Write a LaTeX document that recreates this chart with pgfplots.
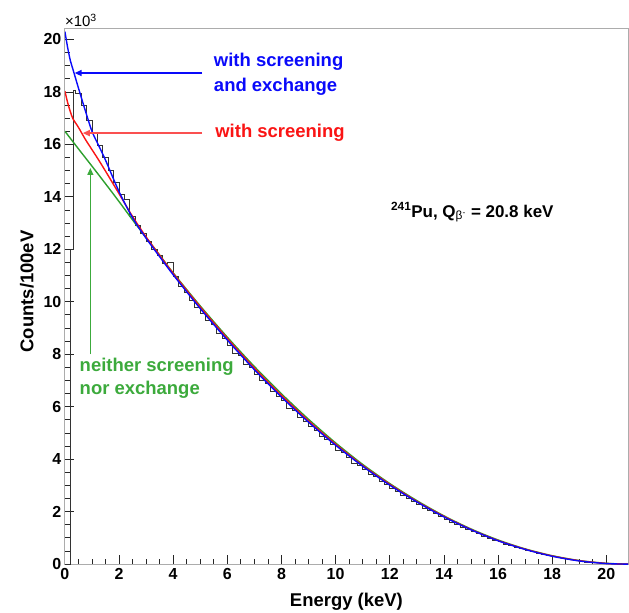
\documentclass[border=0pt]{standalone}
\usepackage{fontspec}
\setmainfont{Liberation Sans}
\usepackage{pgfplots}
\pgfplotsset{compat=1.18}
\usetikzlibrary{arrows.meta}
\definecolor{cblue}{RGB}{10,10,250}
\definecolor{cred}{RGB}{250,20,20}
\definecolor{cgreen}{RGB}{45,160,45}
\definecolor{ared}{RGB}{250,80,80}
\definecolor{tgreen}{RGB}{60,170,60}
\begin{document}
\begin{tikzpicture}
\path[use as bounding box] (-65pt,-48pt) rectangle (565pt,565pt);
\begin{axis}[
  scale only axis, width=564pt, height=536pt,
  xmin=0, xmax=20.8, ymin=0, ymax=20.4,
  xtick distance=2, ytick distance=2, minor tick num=3,
  tick pos=left, tick align=inside,
  major tick length=9pt, minor tick length=5pt,
  every tick/.style={black!85, line width=0.8pt},
  axis line style={gray!65, line width=1pt},
  ticklabel style={font=\bfseries\fontsize{16}{16}\selectfont},
  /pgf/number format/assume math mode=true,
  xticklabel style={yshift=-1pt},
]
% histogram (Counts/100eV, in units of 10^3), left bin edges
\addplot[const plot, black!80, line width=0.8pt] coordinates {
(0,0) (0.2,12.0) (0.3,18.05) (0.4,17.95) (0.6,17.5) (0.8,16.9) (1.0,16.4) (1.2,15.95)
(1.4,15.5) (1.6,15.0) (1.8,14.55) (2.0,14.1) (2.2,13.9) (2.4,13.25) (2.6,12.9) (2.8,12.6)
(3.0,12.3) (3.2,12.0) (3.4,11.75) (3.6,11.45) (3.8,11.5) (4.0,10.95) (4.2,10.6) (4.4,10.35)
(4.6,10.05) (4.8,9.8) (5.0,9.55) (5.2,9.3) (5.4,9.15) (5.6,8.8) (5.8,8.6) (6.0,8.35)
(6.2,8.05) (6.4,7.95) (6.6,7.6) (6.8,7.5) (7.0,7.25) (7.2,7.0) (7.4,6.9) (7.6,6.6)
(7.8,6.4) (8.0,6.25) (8.2,5.95) (8.4,5.85) (8.6,5.6) (8.8,5.45) (9.0,5.25) (9.2,5.1)
(9.4,4.85) (9.6,4.75) (9.8,4.55) (10.0,4.35) (10.2,4.25) (10.4,4.05) (10.6,3.85) (10.8,3.78)
(11.0,3.6) (11.2,3.42) (11.4,3.33) (11.6,3.15) (11.8,3.05) (12.0,2.88) (12.2,2.78) (12.4,2.62)
(12.6,2.52) (12.8,2.38) (13.0,2.28) (13.2,2.13) (13.4,2.04) (13.6,1.92) (13.8,1.80) (14.0,1.72)
(14.2,1.60) (14.4,1.52) (14.6,1.41) (14.8,1.33) (15.0,1.24) (15.2,1.16) (15.4,1.07) (15.6,0.99)
(15.8,0.91) (16.0,0.85) (16.2,0.77) (16.4,0.71) (16.6,0.64) (16.8,0.58) (17.0,0.53) (17.2,0.47)
(17.4,0.42) (17.6,0.37) (17.8,0.33) (18.0,0.28) (18.2,0.24) (18.4,0.20) (18.6,0.17) (18.8,0.13)
(19.0,0.11) (19.2,0.08) (19.4,0.06) (19.6,0.05) (19.8,0.03) (20.0,0.02) (20.2,0.01) (20.4,0.0)
(20.6,0.0) (20.8,0.0)
};
% neither screening nor exchange
\addplot[cgreen, line width=1.4pt, smooth] coordinates {
(0,16.5) (0.5,15.83) (1,15.17) (1.5,14.5) (2,13.82) (2.5,13.12) (3,12.45) (3.5,11.78)
(4,11.1) (5,9.84) (6,8.65) (7,7.53) (8,6.49) (9,5.52) (10,4.62) (11,3.80) (12,3.07)
(13,2.42) (14,1.84) (15,1.34) (16,0.92) (17,0.58) (18,0.32) (19,0.135) (20,0.03) (20.8,0)
};
% with screening
\addplot[cred, line width=1.4pt, smooth] coordinates {
(0,18.03) (0.1,17.6) (0.2,17.25) (0.3,16.97) (0.5,16.65) (0.75,16.2) (1.0,15.8) (1.25,15.4)
(1.5,14.98) (2.0,14.12) (2.5,13.25) (3,12.47) (3.5,11.77) (4,11.08) (5,9.8) (6,8.6) (7,7.47)
(8,6.43) (9,5.46) (10,4.57) (11,3.76) (12,3.04) (13,2.39) (14,1.82) (15,1.32) (16,0.90)
(17,0.57) (18,0.31) (19,0.13) (20,0.025) (20.8,0)
};
% with screening and exchange
\addplot[cblue, line width=1.4pt, smooth] coordinates {
(0,20.3) (0.1,19.7) (0.2,19.2) (0.3,18.85) (0.4,18.5) (0.5,18.15) (0.75,17.3) (1.0,16.5)
(1.25,15.95) (1.5,15.4) (2.0,14.2) (2.5,13.2) (3,12.42) (3.5,11.72) (4,11.03) (5,9.74)
(6,8.54) (7,7.41) (8,6.37) (9,5.41) (10,4.53) (11,3.73) (12,3.01) (13,2.37) (14,1.80)
(15,1.31) (16,0.89) (17,0.56) (18,0.30) (19,0.12) (20,0.02) (20.8,0)
};
% arrows
\draw[draw=cblue, fill=cblue, line width=1.5pt, -{Triangle[length=7pt,width=6pt]}] (axis cs:5.07,18.72) -- (axis cs:0.36,18.72);
\draw[draw=ared, fill=ared, line width=1.5pt, -{Triangle[length=7pt,width=6pt]}] (axis cs:5.07,16.43) -- (axis cs:0.66,16.43);
\draw[draw=tgreen, fill=tgreen, line width=1.2pt, -{Triangle[length=7pt,width=6pt]}] (axis cs:0.94,8.0) -- (axis cs:0.94,15.1);
% texts
\node[anchor=west, align=left, text=cblue, font=\bfseries\fontsize{18.5}{25}\selectfont, inner sep=0pt]
  at (axis cs:5.5,18.69) {with screening\\and exchange};
\node[anchor=west, text=cred, font=\bfseries\fontsize{18.5}{25}\selectfont, inner sep=0pt]
  at (axis cs:5.55,16.46) {with screening};
\node[anchor=west, align=left, text=tgreen, font=\bfseries\fontsize{18.5}{23}\selectfont, inner sep=0pt]
  at (axis cs:0.54,7.07) {neither screening\\nor exchange};
\node[anchor=west, font=\bfseries\fontsize{17}{17}\selectfont, inner sep=0pt]
  at (axis cs:12.04,13.41) {\textsuperscript{241}Pu, Q\textsubscript{\mdseries β\textsuperscript{-}} = 20.8 keV};
\end{axis}
\node[anchor=base west, font=\fontsize{15}{15}\selectfont, inner sep=0pt] at (0pt,538pt) {×10\textsuperscript{3}};
\node[font=\bfseries\fontsize{18.5}{18.5}\selectfont] at (282pt,-38pt) {Energy (keV)};
\node[rotate=90, font=\bfseries\fontsize{18.5}{18.5}\selectfont] at (-38pt,273pt) {Counts/100eV};
\end{tikzpicture}
\end{document}
